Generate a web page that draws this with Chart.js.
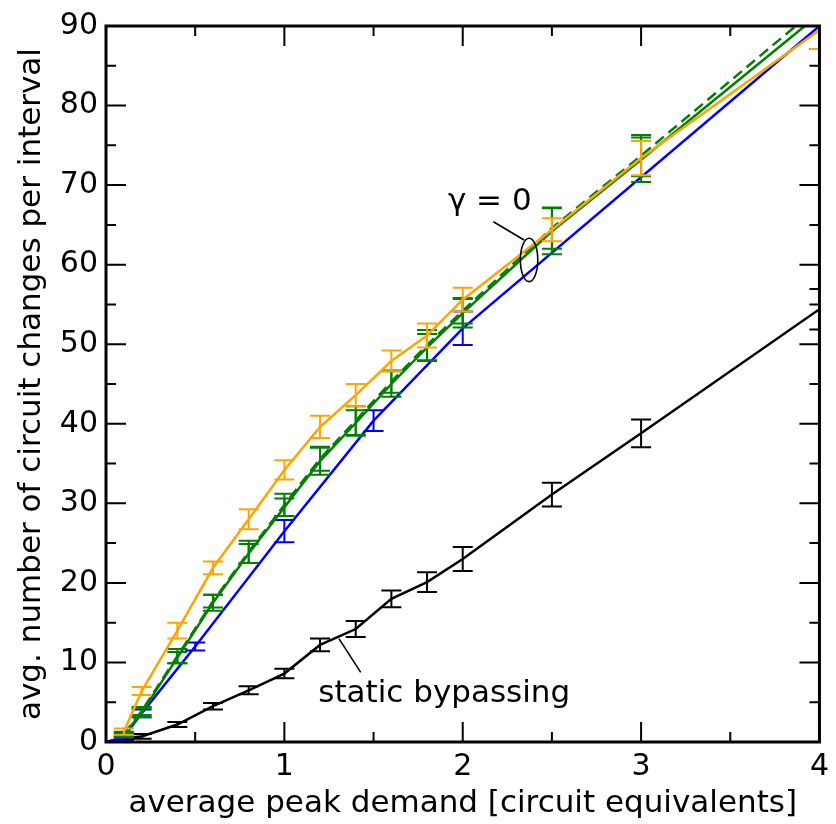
<!DOCTYPE html>
<html>
<head>
    <title>Circuit changes vs. peak demand</title>
    <style>
        body { margin: 0; background: #fff; }
        #chartContainer { width: 836px; height: 824px; }
    </style>
    <script src="https://cdn.jsdelivr.net/npm/chart.js"></script>
</head>
<body>
    <div id="chartContainer">
        <canvas id="myChart"></canvas>
    </div>

    <script>
        // static bypassing (black)
        let xStatic = [0, 0.1, 0.2, 0.4, 0.6, 0.8, 1.0, 1.2, 1.4, 1.6, 1.8, 2.0, 2.5, 3.0, 4.0];
        let yStatic = [0, 0.5, 0.7, 2.2, 4.5, 6.5, 8.6, 12.2, 14.2, 18.0, 20.1, 23.0, 31.1, 38.8, 54.4];
        let eStatic = [0, 0.2, 0.3, 0.3, 0.4, 0.5, 0.6, 0.8, 1.0, 1.05, 1.25, 1.5, 1.5, 1.75, 2.55];

        // blue curve
        let xBlue = [0, 0.1, 0.2, 0.5, 1.0, 1.5, 2.0, 4.0];
        let yBlue = [0, 0.6, 3.6, 12.0, 26.5, 40.4, 52.0, 90.0];
        let eBlue = [0, 0.4, 0.5, 0.5, 1.4, 1.3, 2.1, 2.9];

        // gamma = 0 curves (orange, green, green dashed)
        let xGamma = [0.1, 0.2, 0.4, 0.6, 0.8, 1.0, 1.2, 1.4, 1.6, 1.8, 2.0, 2.5, 3.0, 4.0];
        let yOrange = [1.3, 6.4, 14.0, 21.9, 28.0, 34.2, 39.6, 43.6, 47.9, 51.1, 55.6, 64.4, 73.4, 89.5];
        let eOrange = [0.4, 0.5, 1.0, 0.8, 1.25, 1.2, 1.4, 1.4, 1.3, 1.5, 1.5, 1.45, 2.15, 2.4];
        let yGreen = [0.9, 3.7, 10.6, 17.5, 23.7, 29.5, 35.3, 40.1, 45.0, 49.6, 53.9, 64.2, 73.2, 91.5];
        let eGreen = [0.3, 0.6, 0.7, 1.0, 1.2, 1.1, 1.7, 1.6, 1.6, 1.7, 1.8, 2.9, 2.8, 4.4];
        let yGreenDash = [1.0, 3.9, 10.8, 17.7, 23.9, 29.8, 35.6, 40.4, 45.3, 49.9, 54.2, 64.6, 73.7, 92.5];
        let eGreenDash = [0.3, 0.5, 0.9, 0.8, 1.4, 1.4, 1.5, 1.8, 1.4, 1.9, 1.6, 2.6, 2.6, 5.4];

        let xMin = 0, xMax = 4, xStep = 1;
        let yMin = 0, yMax = 90, yStep = 10;

        let fontFamily = '"DejaVu Sans", sans-serif';

        function pts(xs, ys) {
            return xs.map((x, i) => ({ x: x, y: ys[i] }));
        }

        function series(xs, ys, es, color, dash) {
            return {
                data: pts(xs, ys),
                errors: es,
                borderColor: color,
                backgroundColor: color,
                borderWidth: 2.5,
                borderDash: dash || [],
                pointRadius: 0,
                tension: 0,
                fill: false
            };
        }

        // error bars, frame with inward ticks, annotations
        let extras = {
            id: 'extras',
            afterDatasetDraw(chart, args) {
                let ds = chart.data.datasets[args.index];
                if (!ds.errors) return;
                let ctx = chart.ctx, xs = chart.scales.x, ys = chart.scales.y, a = chart.chartArea;
                ctx.save();
                ctx.beginPath();
                ctx.rect(a.left, a.top, a.right - a.left, a.bottom - a.top);
                ctx.clip();
                ctx.strokeStyle = ds.borderColor;
                ctx.lineWidth = 2;
                ctx.setLineDash([]);
                ds.data.forEach((p, i) => {
                    let e = ds.errors[i];
                    if (!e) return;
                    let px = xs.getPixelForValue(p.x);
                    let top = ys.getPixelForValue(p.y + e);
                    let bot = ys.getPixelForValue(p.y - e);
                    ctx.beginPath();
                    ctx.moveTo(px, top); ctx.lineTo(px, bot);
                    ctx.moveTo(px - 10, top); ctx.lineTo(px + 10, top);
                    ctx.moveTo(px - 10, bot); ctx.lineTo(px + 10, bot);
                    ctx.stroke();
                });
                ctx.restore();
            },
            afterDraw(chart) {
                let ctx = chart.ctx, xs = chart.scales.x, ys = chart.scales.y, a = chart.chartArea;
                ctx.save();
                ctx.strokeStyle = '#000';
                ctx.setLineDash([]);

                // ticks on all four sides, pointing inward
                ctx.lineWidth = 2;
                ctx.beginPath();
                for (let v = xMin; v <= xMax + 1e-9; v += xStep / 2) {
                    let len = Math.abs(v / xStep - Math.round(v / xStep)) < 1e-6 ? 20 : 10;
                    let px = xs.getPixelForValue(v);
                    ctx.moveTo(px, a.bottom); ctx.lineTo(px, a.bottom - len);
                    ctx.moveTo(px, a.top); ctx.lineTo(px, a.top + len);
                }
                for (let v = yMin; v <= yMax + 1e-9; v += yStep / 2) {
                    let len = Math.abs(v / yStep - Math.round(v / yStep)) < 1e-6 ? 20 : 10;
                    let py = ys.getPixelForValue(v);
                    ctx.moveTo(a.left, py); ctx.lineTo(a.left + len, py);
                    ctx.moveTo(a.right, py); ctx.lineTo(a.right - len, py);
                }
                ctx.stroke();

                // frame
                ctx.lineWidth = 3;
                ctx.strokeRect(a.left, a.top, a.right - a.left, a.bottom - a.top);

                // annotations
                let X = v => xs.getPixelForValue(v);
                let Y = v => ys.getPixelForValue(v);
                ctx.lineWidth = 1.6;
                ctx.beginPath();
                ctx.ellipse(X(2.372), Y(60.6), 8.7, 21.7, 0, 0, Math.PI * 2);
                ctx.moveTo(X(2.172), Y(65.4)); ctx.lineTo(X(2.344), Y(63.1));
                ctx.moveTo(X(1.306), Y(13.0)); ctx.lineTo(X(1.428), Y(8.75));
                ctx.stroke();

                ctx.fillStyle = '#000';
                ctx.font = '31px ' + fontFamily;
                ctx.textAlign = 'left';
                ctx.textBaseline = 'alphabetic';
                ctx.fillText('\u03B3 = 0', X(1.917), Y(66.9));
                ctx.fillText('static bypassing', X(1.19), Y(5.0));
                ctx.restore();
            }
        };

        let ctx = document.getElementById('myChart').getContext('2d');
        let myChart = new Chart(ctx, {
            type: 'line',
            data: {
                datasets: [
                    series(xGamma, yOrange, eOrange, '#FFA500'),
                    series(xGamma, yGreen, eGreen, '#008000'),
                    series(xGamma, yGreenDash, eGreenDash, '#008000', [11, 6]),
                    series(xBlue, yBlue, eBlue, '#0000FF'),
                    series(xStatic, yStatic, eStatic, '#000000')
                ]
            },
            options: {
                responsive: true,
                maintainAspectRatio: false,
                animation: false,
                layout: { padding: { top: 22, right: 10, left: 0, bottom: 0 } },
                plugins: {
                    legend: { display: false },
                    tooltip: { enabled: false }
                },
                scales: {
                    x: {
                        type: 'linear',
                        min: xMin,
                        max: xMax,
                        afterFit: s => { s.height = 82; },
                        grid: { display: false, drawTicks: false },
                        border: { display: false },
                        ticks: {
                            stepSize: xStep,
                            padding: 7,
                            color: '#000',
                            maxRotation: 0,
                            font: { family: fontFamily, size: 30 }
                        },
                        title: {
                            display: true,
                            text: 'average peak demand [circuit equivalents]',
                            color: '#000',
                            padding: { top: 0, bottom: 1 },
                            font: { family: fontFamily, size: 31 }
                        }
                    },
                    y: {
                        min: yMin,
                        max: yMax,
                        afterFit: s => { s.width = 106; },
                        grid: { display: false, drawTicks: false },
                        border: { display: false },
                        ticks: {
                            stepSize: yStep,
                            padding: 8,
                            color: '#000',
                            font: { family: fontFamily, size: 30 }
                        },
                        title: {
                            display: true,
                            text: 'avg. number of circuit changes per interval',
                            color: '#000',
                            padding: { top: 13, bottom: 0 },
                            font: { family: fontFamily, size: 31 }
                        }
                    }
                }
            },
            plugins: [extras]
        });
    </script>
</body>
</html>
